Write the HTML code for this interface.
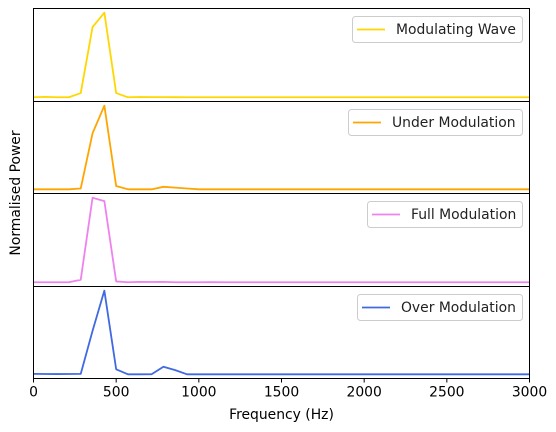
<!DOCTYPE html>
<html><head><meta charset="utf-8"><style>
html,body{margin:0;padding:0;background:#fff;width:556px;height:432px;overflow:hidden}
svg{font-family:"DejaVu Sans","Liberation Sans",sans-serif}
</style></head><body>
<svg id="chart" width="556" height="432" viewBox="0 0 556 432" xmlns="http://www.w3.org/2000/svg"></svg>
<script>
const binStep = 3000/42;
const seriesNames = ["Modulating Wave","Under Modulation","Full Modulation","Over Modulation"];
const seriesColors = ["#ffd700","#ffa500","#ee82ee","#4169e1"];
const modulatingWave = [0.0,0.005,0.0,0.0,0.05,0.83,1.0,0.05,0.0,0.003,0.002,0.002,0.001,0,0,0,0,0,0,0,0,0,0,0,0,0,0,0,0,0,0,0,0,0,0,0,0,0,0,0,0,0,0];
const underModulation = [0.0,0.0,0.0,0.0,0.01,0.67,1.0,0.04,0.0,0.0,0.0,0.03,0.02,0.01,0,0,0,0,0,0,0,0,0,0,0,0,0,0,0,0,0,0,0,0,0,0,0,0,0,0,0,0,0];
const fullModulation = [0.0,0.0,0.0,0.0,0.03,1.0,0.96,0.01,0.0,0.005,0.003,0.005,0.0,0.0,0.0,0.002,0.0,0,0,0,0,0,0,0,0,0,0,0,0,0,0,0,0,0,0,0,0,0,0,0,0,0,0];
const overModulation = [0.005,0.004,0.003,0.004,0.005,0.52,1.0,0.06,0.0,0.0,0.001,0.09,0.05,0.0,0.0,0.0,0.0,0,0,0,0,0,0,0,0,0,0,0,0,0,0,0,0,0,0,0,0,0,0,0,0,0,0];
const seriesValues = [modulatingWave, underModulation, fullModulation, overModulation];
const xTicks = [0,500,1000,1500,2000,2500,3000];
const xTickLabels = ["0","500","1000","1500","2000","2500","3000"];

const svg = document.getElementById('chart');
const NS = "http://www.w3.org/2000/svg";
const L = 33.5, R = 529.5;
const panelTops = [8.5, 101.5, 193.5, 286.5];
const panelH = [93, 92, 93, 92];
const legendW = [170, 174, 155, 165];
function xScale(f){ return L + (f/3000)*(R-L); }
function mk(tag, attrs){ const e=document.createElementNS(NS,tag); for(const k in attrs) e.setAttribute(k,attrs[k]); svg.appendChild(e); return e; }

seriesValues.forEach((vals, i) => {
  const top = panelTops[i], h = panelH[i], bot = top + h;
  const mn = Math.min(...vals), mx = Math.max(...vals);
  const pad = (mx-mn)*0.05;
  const yScale = v => bot - (v - (mn-pad)) / ((mx+pad)-(mn-pad)) * h;
  const pts = vals.map((v,k) => xScale(k*binStep).toFixed(2)+","+yScale(v).toFixed(2)).join(" ");
  const line = mk('polyline', {points: pts, fill:'none', stroke: seriesColors[i], 'stroke-width':1.8, 'stroke-linejoin':'round'});
  
  
  const lw = legendW[i], lx = 522 - lw, ly = Math.round(top) + 7;
  const g = document.createElementNS(NS,'g'); svg.appendChild(g);
  
  
  const box = document.createElementNS(NS,'rect');
  [['x',lx+0.5],['y',ly+0.5],['width',lw],['height',26],['rx',3],['fill','#fff'],['fill-opacity',0.8],['stroke','#ccc']].forEach(a=>box.setAttribute(a[0],a[1]));
  g.appendChild(box);
  const sw = document.createElementNS(NS,'line');
  [['x1',lx+5],['x2',lx+33],['y1',ly+13.5],['y2',ly+13.5],['stroke',seriesColors[i]],['stroke-width',1.8]].forEach(a=>sw.setAttribute(a[0],a[1]));
  g.appendChild(sw);
  const t = document.createElementNS(NS,'text');
  [['x',lx+44],['y',ly+18],['font-size','13.9px'],['fill','#222']].forEach(a=>t.setAttribute(a[0],a[1]));
  t.textContent = seriesNames[i];
  g.appendChild(t);
});
panelTops.forEach((top, i) => {
  const frame = mk('rect', {x:L, y:top, width:R-L, height:panelH[i], fill:'none', stroke:'#000', 'stroke-width':1});
  
  
});

const bottom = panelTops[3] + panelH[3];
xTicks.forEach((f, k) => {
  const x = xScale(f);
  const tk = mk('line', {x1:x, x2:x, y1:bottom, y2:bottom+4, stroke:'#000', 'stroke-width':1});
  
  
  const tl = mk('text', {x:x, y:bottom+18, 'font-size':'13.9px', 'text-anchor':'middle', fill:'#000'});
  
  
  tl.textContent = xTickLabels[k];
});
const xt = mk('text', {x:(L+R)/2, y:419, 'font-size':'13.9px', 'text-anchor':'middle', fill:'#000'});


xt.textContent = "Frequency (Hz)";
const yt = mk('text', {x:0, y:0, 'font-size':'13.9px', 'text-anchor':'middle', fill:'#000', transform:'translate(20,193) rotate(-90)'});


yt.textContent = "Normalised Power";
</script>
</body></html>
